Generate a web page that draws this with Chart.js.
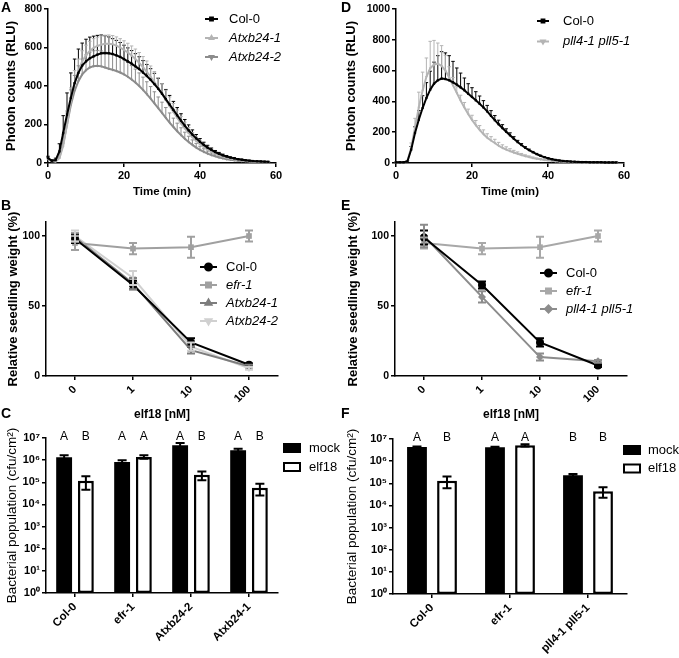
<!DOCTYPE html>
<html>
<head>
<meta charset="utf-8">
<script src="https://cdn.jsdelivr.net/npm/chart.js@4.4.0/dist/chart.umd.min.js"></script>
<style>
  body { margin:0; background:#fff; width:679px; height:658px; position:relative; overflow:hidden; }
  canvas { position:absolute; }
  .lt { position:absolute; font:bold 14px 'Liberation Sans', Arial, sans-serif; line-height:14px; color:#000; }
</style>
</head>
<body>
<canvas id="cA" width="340" height="200" style="left:0;top:0"></canvas>
<canvas id="cD" width="339" height="200" style="left:340px;top:0"></canvas>
<canvas id="cB" width="340" height="227" style="left:0;top:195px"></canvas>
<canvas id="cE" width="339" height="227" style="left:340px;top:195px"></canvas>
<canvas id="cC" width="340" height="243" style="left:0;top:415px"></canvas>
<canvas id="cF" width="339" height="243" style="left:340px;top:415px"></canvas>
<div class="lt" style="left:1px;top:0">A</div>
<div class="lt" style="left:341px;top:0">D</div>
<div class="lt" style="left:1px;top:198px">B</div>
<div class="lt" style="left:341px;top:198px">E</div>
<div class="lt" style="left:1px;top:406px">C</div>
<div class="lt" style="left:341px;top:406px">F</div>
<script>
// ---- data ----
// luminescence time course (min)
const times = [0,1,2,3,4,5,6,7,8,9,10,11,12,13,14,15,16,17,18,19,20,21,22,23,24,25,26,27,28,29,
               30,31,32,33,34,35,36,37,38,39,40,41,42,43,44,45,46,47,48,49,50,51,52,53,54,55,56,57,58];

// panel A
const colA = [25,12,15,60,156, 251,338,415,468,506, 528,544,554,563,570, 571,570,566,559,551,
              540,528,516,502,488, 470,452,432,410,386, 360,332,304,276,248, 220,194,170,148,128,
              110,94,80,68,57, 48,40,34,28,24, 20,17,14,12,10, 9,8,7,6];
const colAerr = [10,5,10,40,90, 113,130,125,124,117, 115,110,105,100,95, 90,85,80,78,75,
                 72,70,68,66,64, 62,60,58,56,54, 52,50,47,44,40, 36,32,28,24,20,
                 17,14,12,10,8, 7,6,5,4,4, 3,3,3,2,2, 2,2,2,2];
const atx1A = [20,10,8,25,90, 200,320,415,480,528, 560,582,598,608,615, 619,620,617,610,600,
               588,574,558,540,520, 498,474,448,420,390, 360,328,296,265,235, 206,180,156,134,115,
               98,83,70,59,49, 41,34,28,23,19, 16,13,11,9,8, 7,6,5,5];
const atx1Aerr = [8,5,5,15,40, 60,70,65,60,55, 52,50,48,46,45, 45,45,45,45,46,
                  47,48,50,52,54, 55,56,56,55,54, 52,50,47,44,40, 36,32,28,24,20,
                  17,14,12,10,8, 7,6,5,4,4, 3,3,3,2,2, 2,2,2,2];
const atx2A = [20,10,8,30,100, 200,300,375,425,460, 482,496,503,505,502, 496,490,484,478,470,
               460,448,434,418,400, 380,358,335,310,285, 260,235,210,187,165, 145,126,109,94,80,
               68,58,49,41,35, 29,24,20,17,14, 12,10,9,8,7, 6,5,5,4];
const atx2Aerr = [8,5,5,20,50, 70,80,80,80,80, 80,80,80,80,80, 80,80,80,80,78,
                  76,74,72,70,68, 66,64,62,60,58, 56,53,50,46,42, 38,34,30,26,22,
                  19,16,13,11,9, 8,7,6,5,4, 4,3,3,3,2, 2,2,2,2];

// panel D
const colD = [5,5,5,10,87, 195,281,357,422,476, 515,537,548,545,537, 524,509,491,472,450,
              429,407,385,361,335, 306,278,252,227,203, 180,158,136,117,99, 84,70,58,47,38,
              31,25,20,16,13, 11,9,8,7,6, 6,5,5,5,5, 4,4,4,4];
const colDerr = [2,2,2,5,20, 40,60,80,100,120, 140,160,175,170,160, 136,108,93,80,65,
                 60,56,50,44,39, 34,30,26,22,19, 16,13,11,9,7, 6,5,4,3,3,
                 2,2,2,2,2, 2,2,2,2,2, 2,2,2,2,2, 2,2,2,2];
const pllD = [5,5,5,12,100, 230,360,470,560,615, 640,645,630,600,555, 505,455,405,360,318,
              280,246,215,188,164, 146,130,112,98,87, 77,68,60,52,45, 39,33,28,24,20,
              17,14,12,10,8, 7,6,5,5,5, 4,4,4,4,4, 4,4,4,4];
const pllDerr = [2,2,2,5,30, 60,100,120,122,175, 156,134,132,100,70, 50,40,35,33,32,
                 30,30,28,27,26, 25,24,22,20,18, 16,14,12,10,8, 7,6,5,4,3,
                 3,2,2,2,2, 2,2,2,2,2, 2,2,2,2,2, 2,2,2,2];

// seedling growth, elf18 doses
const doses = ['0', '1', '10', '100'];
const colB = [98, 65, 24, 8];        const colBerr = [3, 3, 3, 1];
const efrB = [95, 91, 92, 100];      const efrBerr = [5, 4, 7.5, 4];
const atx1B = [99, 66, 18.5, 7];     const atx1Berr = [3, 4, 2.5, 1];
const atx2B = [100, 70, 21, 5.5];    const atx2Berr = [4, 5, 3, 1];
const colE = [99, 65, 24, 7.5];      const colEerr = [5, 2.5, 3, 1];
const efrE = [95, 91, 92, 100];      const efrEerr = [4, 4, 7.5, 4];
const pllE = [100, 56.5, 13.5, 10.5]; const pllEerr = [8, 4, 2.5, 1];

// bacterial growth (cfu/cm2)
const logTicks = [1, 10, 100, 1e3, 1e4, 1e5, 1e6, 1e7];
const logTickLabels = ['10⁰', '10¹', '10²', '10³', '10⁴', '10⁵', '10⁶', '10⁷'];
const linesC = ['Col-0', 'efr-1', 'Atxb24-2', 'Atxb24-1'];
const mockC = [1.35e6, 8.3e5, 4.7e6, 2.8e6];
const mockChi = [1.65e6, 9.8e5, 5.9e6, 3.3e6];
const mockClo = [1.1e6, 6.8e5, 3.5e6, 2.4e6];
const elfC = [1.17e5, 1.4e6, 2.2e5, 5.7e4];
const elfChi = [1.85e5, 1.65e6, 3.1e5, 8.6e4];
const elfClo = [4.6e4, 1.15e6, 1.25e5, 2.5e4];
const mockCletters = ['A', 'A', 'A', 'A'];
const elfCletters = ['B', 'A', 'B', 'B'];

const linesF = ['Col-0', 'efr-1', 'pll4-1 pll5-1'];
const mockF = [4.3e6, 4.2e6, 2.3e5];
const mockFhi = [4.6e6, 4.5e6, 2.6e5];
const mockFlo = [4.0e6, 3.9e6, 2.0e5];
const elfF = [1.3e5, 5.2e6, 4.4e4];
const elfFhi = [2.0e5, 5.8e6, 6.7e4];
const elfFlo = [6e4, 4.6e6, 2.2e4];
const mockFletters = ['A', 'A', 'B'];
const elfFletters = ['B', 'A', 'B'];

// ---- chart setup ----
const FONT = "'Liberation Sans', Arial, sans-serif";
Chart.defaults.font.family = FONT;
Chart.defaults.color = '#000';
Chart.defaults.animation = false;

// error bars (errHi / errLo arrays on the dataset)
const errorBars = {
  id: 'errorBars',
  draw(chart) {
    const ctx = chart.ctx, ys = chart.scales.y;
    chart.data.datasets.forEach((ds, i) => {
      if (!ds.errHi) return;
      const meta = chart.getDatasetMeta(i);
      ctx.save();
      ctx.strokeStyle = ds.errColor || ds.borderColor;
      ctx.lineWidth = ds.errWidth || 1;
      const c = (ds.capW || 4) / 2;
      meta.data.forEach((el, j) => {
        const x = el.x;
        const yHi = ys.getPixelForValue(ds.errHi[j]);
        const yLo = ds.errLo ? ys.getPixelForValue(ds.errLo[j]) : el.y;
        ctx.beginPath();
        ctx.moveTo(x, yLo); ctx.lineTo(x, yHi);
        ctx.moveTo(x - c, yHi); ctx.lineTo(x + c, yHi);
        if (ds.errLo) { ctx.moveTo(x - c, yLo); ctx.lineTo(x + c, yLo); }
        ctx.stroke();
      });
      ctx.restore();
    });
  },
  beforeDatasetsDraw(chart, args, opts) { if (opts.under) this.draw(chart); },
  afterDatasetsDraw(chart, args, opts) { if (!opts.under) this.draw(chart); }
};

// legend drawn at fixed spot inside the panel
const keyPlugin = {
  id: 'key',
  afterDraw(chart, args, o) {
    if (o.x === undefined) return;
    const ctx = chart.ctx;
    chart.data.datasets.forEach((ds, i) => {
      const y = o.y + i * o.dy;
      ctx.save();
      if (o.box) {
        ctx.fillStyle = ds.backgroundColor;
        ctx.fillRect(o.x, y - 5, 18, 10);
        ctx.strokeStyle = '#000'; ctx.lineWidth = 2;
        ctx.strokeRect(o.x + 1, y - 4, 16, 8);
      } else {
        ctx.strokeStyle = ds.borderColor; ctx.lineWidth = 2;
        ctx.beginPath(); ctx.moveTo(o.x, y); ctx.lineTo(o.x + o.len, y); ctx.stroke();
        ctx.fillStyle = ds.pointBackgroundColor || ds.borderColor;
        Chart.helpers.drawPoint(ctx, {pointStyle: ds.pointStyle, rotation: ds.pointRotation || 0,
          radius: o.r || ds.pointRadius, borderWidth: 1}, o.x + o.len / 2, y);
      }
      ctx.fillStyle = '#000';
      ctx.font = (ds.italic ? 'italic ' : '') + '13px ' + FONT;
      ctx.textBaseline = 'middle';
      ctx.fillText(ds.label, o.x + o.tx, y);
      ctx.restore();
    });
  }
};

// significance letters above the bars
const letterPlugin = {
  id: 'letters',
  afterDraw(chart) {
    const ctx = chart.ctx;
    chart.data.datasets.forEach((ds, i) => {
      if (!ds.letters) return;
      chart.getDatasetMeta(i).data.forEach((el, j) => {
        ctx.save();
        ctx.fillStyle = '#000';
        ctx.font = '12px ' + FONT;
        ctx.textAlign = 'center'; ctx.textBaseline = 'middle';
        ctx.fillText(ds.letters[j], el.x, chart.chartArea.top - 1.5);
        ctx.restore();
      });
    });
  }
};
Chart.register(errorBars, keyPlugin, letterPlugin);

function axisLines() {
  return {
    grid: {drawOnChartArea: false, drawTicks: true, tickLength: 4, color: '#000', lineWidth: 1.5, offset: false},
    border: {color: '#000', width: 1.5}
  };
}
function xy(vals) { return times.map((t, i) => ({x: t, y: vals[i]})); }
function plus(vals, err) { return vals.map((v, i) => v + err[i]); }
function minus(vals, err) { return vals.map((v, i) => v - err[i]); }

function kineticSet(label, vals, err, color, style, rot, italic) {
  return {label: label, data: xy(vals), borderColor: color, backgroundColor: color,
    pointBackgroundColor: color, borderWidth: 2, pointRadius: 1.6, pointStyle: style,
    pointRotation: rot, pointBorderWidth: 0, tension: 0, clip: false,
    errHi: plus(vals, err), capW: 3.5, errWidth: 1, italic: italic};
}
function doseSet(label, vals, err, color, style, rot, italic) {
  return {label: label, data: vals, borderColor: color, backgroundColor: color,
    pointBackgroundColor: color, borderWidth: 2, pointRadius: 4, pointStyle: style,
    pointRotation: rot, pointBorderWidth: 0, tension: 0, clip: false,
    errHi: plus(vals, err), errLo: minus(vals, err), capW: 8, errWidth: 2, italic: italic};
}

function kineticChart(id, sets, yMax, yStep, yW, padRight, key) {
  const a = axisLines();
  return new Chart(document.getElementById(id), {
    type: 'line',
    data: {datasets: sets},
    options: {
      responsive: false, devicePixelRatio: 1,
      layout: {padding: {top: 9, right: padRight, left: 0, bottom: 0}},
      plugins: {legend: {display: false}, tooltip: {enabled: false}, errorBars: {under: true}, key: key},
      scales: {
        x: {type: 'linear', min: 0, max: 60, grid: a.grid, border: a.border,
            ticks: {stepSize: 20, color: '#000', font: {weight: 'bold', size: 11}, padding: 2, callback: v => String(v)},
            title: {display: true, text: 'Time (min)', font: {weight: 'bold', size: 11.5}, padding: {top: 0, bottom: 1}},
            afterFit(s) { s.height = 37; }},
        y: {min: 0, max: yMax, grid: a.grid, border: a.border,
            ticks: {stepSize: yStep, color: '#000', font: {weight: 'bold', size: 10.5}, padding: 2, callback: v => String(v)},
            title: {display: true, text: 'Photon counts (RLU)', font: {weight: 'bold', size: 13}, padding: {top: 4, bottom: 0}},
            afterFit(s) { s.width = yW; }}
      }
    }
  });
}

function doseChart(id, sets, yW, padRight, key) {
  const a = axisLines();
  return new Chart(document.getElementById(id), {
    type: 'line',
    data: {labels: doses, datasets: sets},
    options: {
      responsive: false, devicePixelRatio: 1,
      layout: {padding: {top: 27, right: padRight, left: 0, bottom: 0}},
      plugins: {legend: {display: false}, tooltip: {enabled: false}, errorBars: {under: false}, key: key},
      scales: {
        x: {offset: true, grid: a.grid, border: a.border,
            ticks: {minRotation: 45, maxRotation: 45, color: '#000', font: {weight: 'bold', size: 11}, padding: 3},
            title: {display: true, text: 'elf18 [nM]', font: {weight: 'bold', size: 12}, padding: {top: 0, bottom: 0}},
            afterFit(s) { s.height = 46; }},
        y: {min: 0, max: 110, grid: a.grid, border: a.border,
            afterBuildTicks(s) { s.ticks = [0, 50, 100].map(v => ({value: v})); },
            ticks: {color: '#000', font: {weight: 'bold', size: 10.5}, padding: 2},
            title: {display: true, text: 'Relative seedling weight (%)', font: {weight: 'bold', size: 13}, padding: {top: 6, bottom: 0}},
            afterFit(s) { s.width = yW; }}
      }
    }
  });
}

function barChart(id, labels, mock, mockHi, mockLo, mockL, elf, elfHi, elfLo, elfL, cp, bp, yW, padTop, padRight, xH, key) {
  const a = axisLines();
  return new Chart(document.getElementById(id), {
    type: 'bar',
    data: {labels: labels, datasets: [
      {label: 'mock', data: mock, backgroundColor: '#000', borderColor: '#000', borderWidth: 0,
       errHi: mockHi, errLo: mockLo, errColor: '#000', errWidth: 2, capW: 9, letters: mockL},
      {label: 'elf18', data: elf, backgroundColor: '#fff', borderColor: '#000', borderWidth: 2.5, borderSkipped: false,
       errHi: elfHi, errLo: elfLo, errColor: '#000', errWidth: 2, capW: 9, letters: elfL}
    ]},
    options: {
      responsive: false, devicePixelRatio: 1,
      categoryPercentage: cp, barPercentage: bp,
      layout: {padding: {top: padTop, right: padRight, left: 0, bottom: 0}},
      plugins: {legend: {display: false}, tooltip: {enabled: false}, errorBars: {under: false}, key: key},
      scales: {
        x: {grid: a.grid, border: a.border,
            ticks: {minRotation: 45, maxRotation: 45, color: '#000', font: {weight: 'bold', size: 11.5}, padding: 3},
            afterFit(s) { s.height = xH; }},
        y: {type: 'logarithmic', min: 1, max: 1e7, grid: a.grid, border: a.border,
            afterBuildTicks(s) { s.ticks = logTicks.map(v => ({value: v})); },
            ticks: {color: '#000', font: {weight: 'bold', size: 11}, padding: 2,
                    callback: (v, i) => logTickLabels[i]},
            title: {display: true, text: 'Bacterial population (cfu/cm²)', font: {size: 13.5}, padding: {top: 4, bottom: 0}},
            afterFit(s) { s.width = yW; }}
      }
    }
  });
}

// A
kineticChart('cA', [
  kineticSet('Col-0', colA, colAerr, '#000', 'rect', 0, false),
  kineticSet('Atxb24-1', atx1A, atx1Aerr, '#b4b4b4', 'triangle', 0, true),
  kineticSet('Atxb24-2', atx2A, atx2Aerr, '#8c8c8c', 'triangle', 180, true)
], 800, 200, 48, 64, {x: 205, y: 19, dy: 19, len: 13, tx: 24, r: 2});

// D
kineticChart('cD', [
  kineticSet('Col-0', colD, colDerr, '#000', 'rect', 0, false),
  kineticSet('pll4-1 pll5-1', pllD, pllDerr, '#b4b4b4', 'triangle', 180, true)
], 1000, 200, 56, 55, {x: 197, y: 21, dy: 20.5, len: 12, tx: 26, r: 2});

// B
doseChart('cB', [
  doseSet('Col-0', colB, colBerr, '#000', 'circle', 0, false),
  doseSet('efr-1', efrB, efrBerr, '#a0a0a0', 'rect', 0, true),
  doseSet('Atxb24-1', atx1B, atx1Berr, '#7d7d7d', 'triangle', 0, true),
  doseSet('Atxb24-2', atx2B, atx2Berr, '#d0d0d0', 'triangle', 180, true)
], 46, 62, {x: 200, y: 72, dy: 18, len: 17, tx: 26, r: 3.5});

// E
doseChart('cE', [
  doseSet('Col-0', colE, colEerr, '#000', 'circle', 0, false),
  doseSet('efr-1', efrE, efrEerr, '#a8a8a8', 'rect', 0, true),
  doseSet('pll4-1 pll5-1', pllE, pllEerr, '#8c8c8c', 'rectRot', 0, true)
], 55, 52, {x: 200, y: 78, dy: 18, len: 17, tx: 26, r: 3.5});

// C
barChart('cC', linesC, mockC, mockChi, mockClo, mockCletters, elfC, elfChi, elfClo, elfCletters,
  0.75, 0.73, 46, 23, 62, 65, {x: 283, y: 33, dy: 19, tx: 26, box: true});

// F
barChart('cF', linesF, mockF, mockFhi, mockFlo, mockFletters, elfF, elfFhi, elfFlo, elfFletters,
  0.77, 0.66, 53, 24, 52, 64, {x: 283, y: 35, dy: 18.5, tx: 25, box: true});
</script>
</body>
</html>
